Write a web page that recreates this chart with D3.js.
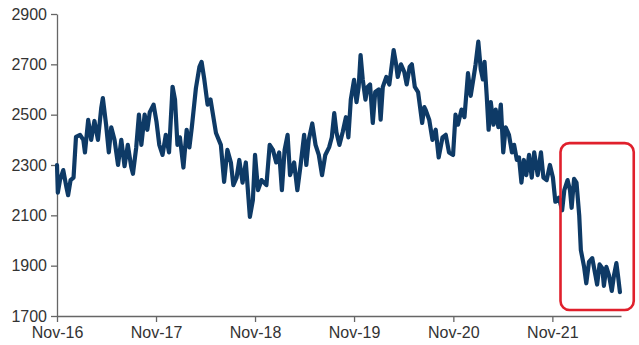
<!DOCTYPE html>
<html>
<head>
<meta charset="utf-8">
<script src="https://cdn.jsdelivr.net/npm/d3@7"></script>
<style>
  html, body { margin: 0; padding: 0; background: #ffffff; }
  svg { display: block; }
</style>
</head>
<body>
<svg id="chart" width="639" height="345"></svg>
<script>
// ---- data ----
const dates = [
  "2016-11-01","2016-11-04","2016-11-12","2016-11-24","2016-12-06","2016-12-12","2016-12-21","2017-01-01",
  "2017-01-10","2017-01-25","2017-02-06","2017-02-12","2017-02-24","2017-03-07","2017-03-19","2017-04-01",
  "2017-04-13","2017-04-19","2017-05-01","2017-05-11","2017-05-20","2017-06-01","2017-06-14","2017-06-26",
  "2017-07-08","2017-07-20","2017-08-02","2017-08-08","2017-08-20","2017-08-30","2017-09-08","2017-09-20",
  "2017-09-30","2017-10-09","2017-10-23","2017-11-03","2017-11-13","2017-11-25","2017-12-07","2017-12-19",
  "2018-01-01","2018-01-10","2018-01-19","2018-01-28","2018-02-10","2018-02-22","2018-03-04","2018-03-13",
  "2018-03-28","2018-04-10","2018-04-18","2018-04-28","2018-05-10","2018-05-21",
  "2018-06-10","2018-06-28","2018-07-10","2018-07-22","2018-08-04","2018-08-13","2018-08-25","2018-09-04",
  "2018-09-16","2018-09-28","2018-10-13","2018-10-24","2018-11-01","2018-11-12","2018-11-25","2018-12-13",
  "2018-12-25","2019-01-06","2019-01-18","2019-01-29","2019-02-08","2019-02-18","2019-03-01","2019-03-10",
  "2019-03-25","2019-04-06","2019-04-18","2019-05-01","2019-05-09","2019-05-18","2019-05-31","2019-06-12",
  "2019-06-24","2019-07-06","2019-07-18","2019-08-01","2019-08-11","2019-08-20","2019-08-28","2019-09-08",
  "2019-09-20","2019-10-02","2019-10-11","2019-10-20","2019-11-01","2019-11-10","2019-11-18","2019-11-25",
  "2019-12-03","2019-12-13","2019-12-21","2019-12-30","2020-01-09","2020-01-18","2020-01-31","2020-02-07",
  "2020-02-15","2020-02-28","2020-03-10","2020-03-26","2020-04-04","2020-04-10","2020-04-22","2020-05-04",
  "2020-05-13","2020-05-24","2020-06-01","2020-06-12","2020-06-24","2020-07-09","2020-07-17",
  "2020-07-22","2020-08-04","2020-08-16","2020-08-28","2020-09-08","2020-09-22","2020-10-04","2020-10-16",
  "2020-10-31","2020-11-09","2020-11-18","2020-12-01","2020-12-12","2020-12-25","2021-01-04","2021-01-15",
  "2021-01-22","2021-02-01","2021-02-10","2021-02-18","2021-02-24","2021-03-04","2021-03-11","2021-03-19",
  "2021-03-29","2021-04-06","2021-04-16","2021-04-25","2021-05-04","2021-05-13","2021-05-25","2021-06-05",
  "2021-06-13","2021-06-23","2021-07-01","2021-07-10","2021-07-19","2021-07-28","2021-08-07","2021-08-17",
  "2021-08-26","2021-09-08","2021-09-20","2021-09-29","2021-10-11","2021-10-23","2021-11-03","2021-11-12",
  "2021-11-25","2021-12-07","2021-12-15","2021-12-27","2022-01-05","2022-01-11","2022-01-20","2022-01-29",
  "2022-02-08","2022-02-14","2022-02-26","2022-03-06","2022-03-16","2022-03-28","2022-04-09","2022-04-15",
  "2022-04-24","2022-05-04","2022-05-10","2022-05-19","2022-05-29","2022-06-08","2022-06-16","2022-06-25",
  "2022-07-01","2022-07-08"
];
const values = [
  2300,2190,2240,2280,2210,2180,2240,2250,
  2412,2420,2400,2350,2479,2400,2475,2400,
  2526,2566,2460,2350,2450,2400,2300,2400,
  2295,2380,2290,2265,2370,2500,2380,2500,
  2440,2510,2540,2470,2380,2340,2420,2350,
  2611,2560,2380,2410,2290,2440,2370,2450,
  2605,2690,2710,2640,2540,2560,
  2427,2380,2233,2360,2310,2220,2250,2320,
  2230,2310,2094,2160,2340,2200,2240,2220,
  2380,2360,2310,2350,2200,2360,2420,2260,
  2310,2200,2300,2420,2300,2400,2465,2380,
  2340,2260,2340,2370,2410,2506,2430,2380,
  2430,2490,2410,2560,2638,2550,2610,2737,
  2640,2560,2610,2620,2467,2590,2600,2480,
  2610,2650,2620,2757,2700,2650,2700,2670,
  2620,2690,2700,2610,2590,2467,2530,
  2519,2480,2400,2440,2330,2410,2420,2350,
  2340,2500,2460,2520,2490,2665,2575,2650,
  2700,2790,2680,2640,2710,2575,2440,2550,
  2460,2520,2450,2540,2350,2450,2420,2350,
  2380,2320,2330,2230,2320,2260,2340,2250,
  2350,2260,2350,2250,2240,2300,2250,2154,
  2170,2120,2200,2240,2200,2130,2245,2230,
  2100,1962,1895,1830,1915,1930,1860,1825,
  1905,1890,1820,1895,1860,1800,1860,1910,
  1860,1795
];
const xDomain = ["2016-11-01", "2022-07-12"];
const yTicks = [1700, 1900, 2100, 2300, 2500, 2700, 2900];
const xTickDates = ["2016-11-01","2017-11-01","2018-11-01","2019-11-01","2020-11-01","2021-11-01"];
const xTickLabels = ["Nov-16","Nov-17","Nov-18","Nov-19","Nov-20","Nov-21"];
// highlighted period (red box)
const highlightDates = ["2021-12-01", "2022-08-28"];
const highlightValues = [1724, 2387];

// ---- layout ----
const margin = { left: 57, right: 18, top: 14, bottom: 29 };
const W = 639, H = 345;
const parse = d3.timeParse("%Y-%m-%d");
const data = dates.map((d, i) => ({ date: parse(d), value: values[i] }));

const x = d3.scaleTime()
  .domain(xDomain.map(parse))
  .range([margin.left, W - margin.right]);
const y = d3.scaleLinear()
  .domain([1700, 2900])
  .range([H - margin.bottom, margin.top]);

const svg = d3.select("#chart");
const font = "'Liberation Sans', Arial, sans-serif";
const textColor = "#333333";
const axisColor = "#666666";

// y axis
const yAxis = svg.append("g")
  .attr("transform", `translate(${margin.left},0)`)
  .call(d3.axisLeft(y).tickValues(yTicks).tickSize(6).tickSizeOuter(0).tickPadding(4).tickFormat(d3.format("d")));
yAxis.select(".domain").attr("stroke", axisColor).attr("stroke-width", 1.3);
yAxis.selectAll(".tick line").attr("stroke", axisColor).attr("stroke-width", 1.3);
yAxis.selectAll(".tick text")
  .attr("fill", textColor).style("font-family", font).style("font-size", "16px");

// x axis
const xAxis = svg.append("g")
  .attr("transform", `translate(0,${H - margin.bottom})`)
  .call(d3.axisBottom(x)
    .tickValues(xTickDates.map(parse))
    .tickSize(6).tickSizeOuter(0).tickPadding(5)
    .tickFormat((d, i) => xTickLabels[i]));
xAxis.select(".domain").attr("stroke", axisColor).attr("stroke-width", 1.3);
xAxis.selectAll(".tick line").attr("stroke", axisColor).attr("stroke-width", 1.3);
xAxis.selectAll(".tick text")
  .attr("fill", textColor).style("font-family", font).style("font-size", "16px");

// line
const line = d3.line()
  .x(d => x(d.date))
  .y(d => y(d.value))
  .curve(d3.curveLinear);
svg.append("path")
  .datum(data)
  .attr("fill", "none")
  .attr("stroke", "#0e3a66")
  .attr("stroke-width", 4.2)
  .attr("stroke-linejoin", "round")
  .attr("stroke-linecap", "round")
  .attr("d", line);

// highlight box
const hx0 = x(parse(highlightDates[0])), hx1 = x(parse(highlightDates[1]));
const hy0 = y(highlightValues[1]), hy1 = y(highlightValues[0]);
svg.append("rect")
  .attr("x", hx0).attr("y", hy0)
  .attr("width", hx1 - hx0).attr("height", hy1 - hy0)
  .attr("rx", 9).attr("ry", 9)
  .attr("fill", "none")
  .attr("stroke", "#e0202c")
  .attr("stroke-width", 2.6);
</script>
</body>
</html>
